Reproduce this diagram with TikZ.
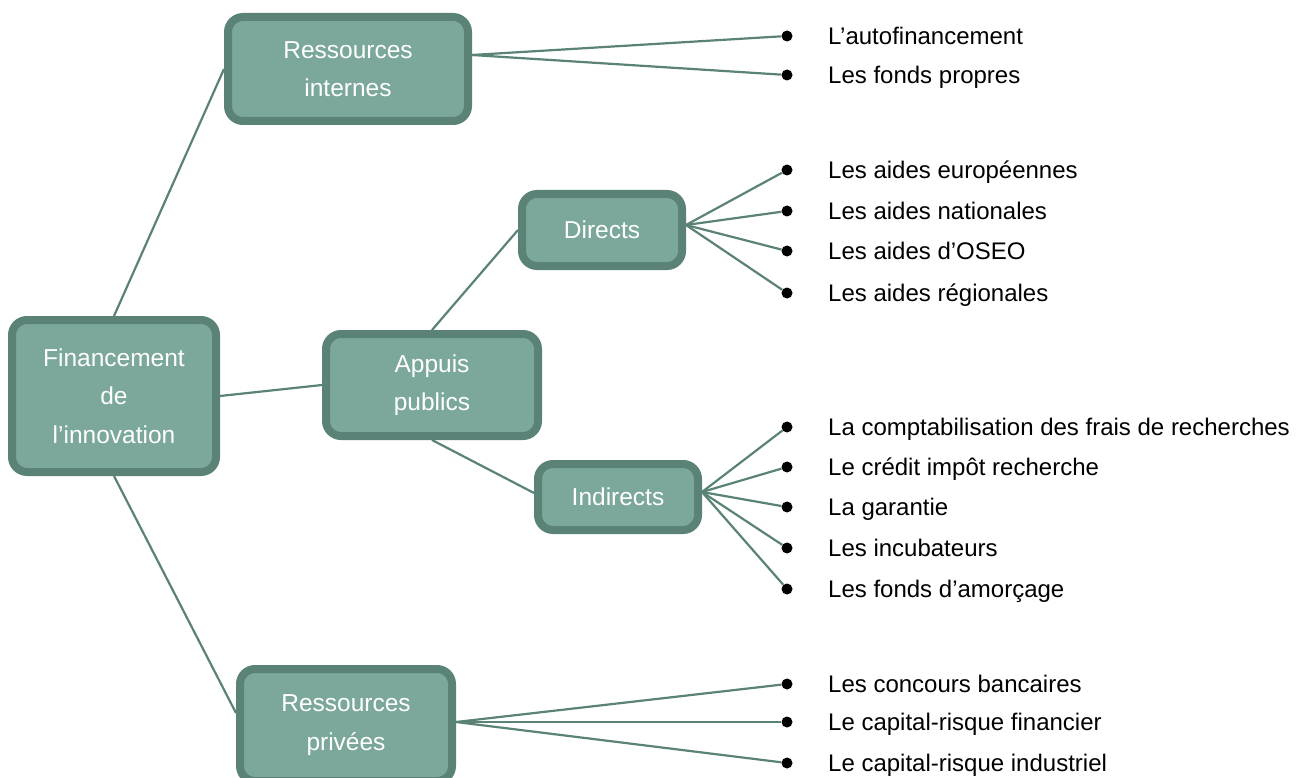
\documentclass[tikz,border=0pt]{standalone}
\usepackage{fontspec}
\setmainfont{Liberation Sans}
\begin{document}
\begin{tikzpicture}[x=1pt,y=-1pt,
  box/.style={draw=boxborder,fill=boxfill,line width=8pt,rounded corners=15pt,
    text=white,align=center,font=\fontsize{24.5}{38.5}\selectfont,inner sep=0pt},
  conn/.style={draw=boxborder,line width=2.2pt},
  dot/.style={circle,fill=black,inner sep=0pt,minimum size=11pt},
  leaf/.style={anchor=west,inner sep=0pt,font=\fontsize{24}{28}\selectfont,text=black,
    text height=17pt,text depth=0pt}]
\definecolor{boxfill}{RGB}{123,168,155}
\definecolor{boxborder}{RGB}{90,130,118}
\useasboundingbox (0,0) rectangle (1301,778);
\begin{scope}
\clip (0,0) rectangle (1301,778);
% boxes
\node[box,minimum width=204pt,minimum height=152pt] (fin) at (114,396) {Financement\\de\\l’innovation};
\node[box,minimum width=240pt,minimum height=104pt] (ri) at (348,69) {Ressources\\internes};
\node[box,minimum width=212pt,minimum height=102pt] (ap) at (432,385) {Appuis\\publics};
\node[box,minimum width=160pt,minimum height=72pt] (di) at (602,230) {Directs};
\node[box,minimum width=160pt,minimum height=66pt] (in) at (618,497) {Indirects};
\node[box,minimum width=212pt,minimum height=112pt] (pr) at (346,725) {Ressources\\privées};
% tree connectors
\draw[conn] (fin.north) -- (ri.west);
\draw[conn] (fin.east) -- (ap.west);
\draw[conn] (fin.south) -- ([yshift=12pt]pr.west);
\draw[conn] (ap.north) -- (di.west);
\draw[conn] (ap.south) -- ([yshift=4pt]in.west);
% leaves
\foreach \n/\y/\t in {r1/36/L’autofinancement, r2/75/Les fonds propres}{
  \node[dot] (\n) at (787,\y) {};
  \node[leaf] (\n t) at (828,\y) {\t};
  \draw[conn] ([yshift=14pt]ri.east) -- (\n);
}
\foreach \n/\y/\t in {d1/170/Les aides européennes, d2/211/Les aides nationales, d3/251/Les aides d’OSEO, d4/293/Les aides régionales}{
  \node[dot] (\n) at (787,\y) {};
  \node[leaf] (\n t) at (828,\y) {\t};
  \draw[conn] ([yshift=5pt]di.east) -- (\n);
}
\foreach \n/\y/\t in {i1/427/La comptabilisation des frais de recherches, i2/467/Le crédit impôt recherche, i3/507/La garantie, i4/548/Les incubateurs, i5/589/Les fonds d’amorçage}{
  \node[dot] (\n) at (787,\y) {};
  \node[leaf] (\n t) at (828,\y) {\t};
  \draw[conn] ([yshift=5pt]in.east) -- (\n);
}
\foreach \n/\y/\t in {p1/684/Les concours bancaires, p2/722/Le capital-risque financier, p3/763/Le capital-risque industriel}{
  \node[dot] (\n) at (787,\y) {};
  \node[leaf] (\n t) at (828,\y) {\t};
  \draw[conn] ([yshift=3pt]pr.east) -- (\n);
}
\end{scope}
\end{tikzpicture}
\end{document}
